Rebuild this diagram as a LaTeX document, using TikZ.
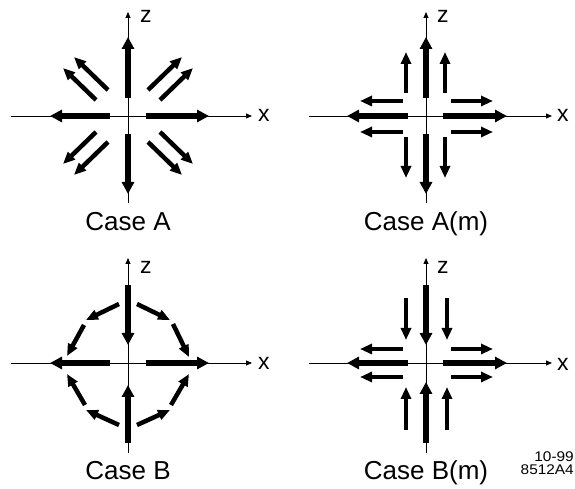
\documentclass[tikz,border=0pt]{standalone}
\usepackage{fontspec}
\setmainfont{Liberation Sans}
\usepackage{tikz}
\usetikzlibrary{arrows.meta}

\tikzset{
    axisarrow/.style={line width=0.8pt, -{Triangle[length=6pt,width=5pt]}},
    bigarrow/.style={line width=5.5pt, -{Triangle[length=12pt,width=12pt]}},
    sidearrow/.style={line width=4.5pt, -{Triangle[length=12pt,width=10pt]}},
    axislabel/.style={anchor=base west, inner sep=0pt, font=\fontsize{23}{26}\selectfont},
    caselabel/.style={anchor=base, inner sep=0pt, font=\fontsize{26}{30}\selectfont},
    corner/.style={anchor=base east, inner sep=0pt, font=\fontsize{14}{16}\selectfont}
}

\begin{document}
\begin{tikzpicture}[x=1pt, y=1pt]
    \clip (0,0) rectangle (575,489);
    \fill[white] (0,0) rectangle (575,489);

    % Case A
    \begin{scope}[shift={(128,373)}]
    \draw[axisarrow] (-117,0) -- (124,0);
    \draw[axisarrow] (0,-87) -- (0,104);
    \node[axislabel] (zA) at (12,93) {z};
    \node[axislabel] (xA) at (130,-6) {x};
    \draw[bigarrow] (18,0) -- (81,0);
    \draw[bigarrow] (-18,0) -- (-78,0);
    \draw[bigarrow] (0,18) -- (0,79);
    \draw[bigarrow] (0,-18) -- (0,-78);
    \draw[sidearrow] (20,26) -- (54,59);
    \draw[sidearrow] (32,16) -- (65,48);
    \draw[sidearrow] (-20,26) -- (-54,59);
    \draw[sidearrow] (-32,16) -- (-65,48);
    \draw[sidearrow] (20,-26) -- (54,-59);
    \draw[sidearrow] (32,-16) -- (65,-48);
    \draw[sidearrow] (-20,-26) -- (-54,-59);
    \draw[sidearrow] (-32,-16) -- (-65,-48);
    \node[caselabel] (caseA) at (0,-115) {Case A};
    \end{scope}

    % Case A(m)
    \begin{scope}[shift={(426,373)}]
    \draw[axisarrow] (-117,0) -- (126,0);
    \draw[axisarrow] (0,-87) -- (0,104);
    \node[axislabel] (zAm) at (11,93) {z};
    \node[axislabel] (xAm) at (131,-6) {x};
    \draw[bigarrow] (17,0) -- (81,0);
    \draw[bigarrow] (-18,0) -- (-79,0);
    \draw[bigarrow] (0,18) -- (0,79);
    \draw[bigarrow] (0,-18) -- (0,-78);
    \draw[sidearrow] (25,15) -- (67,15);
    \draw[sidearrow] (-23,15) -- (-66,15);
    \draw[sidearrow] (25,-16) -- (67,-16);
    \draw[sidearrow] (-23,-16) -- (-66,-16);
    \draw[sidearrow] (-20,23) -- (-20,64);
    \draw[sidearrow] (19,23) -- (19,64);
    \draw[sidearrow] (-20,-21) -- (-20,-62);
    \draw[sidearrow] (19,-21) -- (19,-62);
    \node[caselabel] (caseAm) at (0,-115) {Case A(m)};
    \end{scope}

    % Case B
    \begin{scope}[shift={(128,126)}]
    \draw[axisarrow] (-117,0) -- (124,0);
    \draw[axisarrow] (0,-90) -- (0,105);
    \node[axislabel] (zB) at (12,89) {z};
    \node[axislabel] (xB) at (130,-7) {x};
    \draw[bigarrow] (18,0) -- (81,0);
    \draw[bigarrow] (-18,0) -- (-78,0);
    \draw[bigarrow] (0,78) -- (0,18);
    \draw[bigarrow] (0,-80) -- (0,-22);
    \draw[sidearrow] (-9,59) -- (-42,43);
    \draw[sidearrow] (-44,38) -- (-61,7);
    \draw[sidearrow] (9,59) -- (42,43);
    \draw[sidearrow] (45,39) -- (61,6);
    \draw[sidearrow] (-9,-62) -- (-42,-47);
    \draw[sidearrow] (-43,-42) -- (-61,-11);
    \draw[sidearrow] (9,-62) -- (42,-47);
    \draw[sidearrow] (43,-42) -- (61,-11);
    \node[caselabel] (caseB) at (0,-117) {Case B};
    \end{scope}

    % Case B(m)
    \begin{scope}[shift={(426,126)}]
    \draw[axisarrow] (-117,0) -- (126,0);
    \draw[axisarrow] (0,-90) -- (0,105);
    \node[axislabel] (zBm) at (11,89) {z};
    \node[axislabel] (xBm) at (131,-8) {x};
    \draw[bigarrow] (17,0) -- (81,0);
    \draw[bigarrow] (-18,0) -- (-79,0);
    \draw[bigarrow] (0,78) -- (0,18);
    \draw[bigarrow] (0,-80) -- (0,-19);
    \draw[sidearrow] (25,14) -- (67,14);
    \draw[sidearrow] (-23,14) -- (-66,14);
    \draw[sidearrow] (25,-14) -- (67,-14);
    \draw[sidearrow] (-23,-14) -- (-66,-14);
    \draw[sidearrow] (-20,65) -- (-20,23);
    \draw[sidearrow] (21,65) -- (21,23);
    \draw[sidearrow] (-20,-67) -- (-20,-24);
    \draw[sidearrow] (21,-67) -- (21,-24);
    \node[caselabel] (caseBm) at (0,-117) {Case B(m)};
    \end{scope}

    \node[corner] (date) at (574,27) {\scalebox{1.1}[1]{10-99}};
    \node[corner] (fignum) at (574,14) {\scalebox{1.1}[1]{8512A4}};
\end{tikzpicture}
\end{document}
